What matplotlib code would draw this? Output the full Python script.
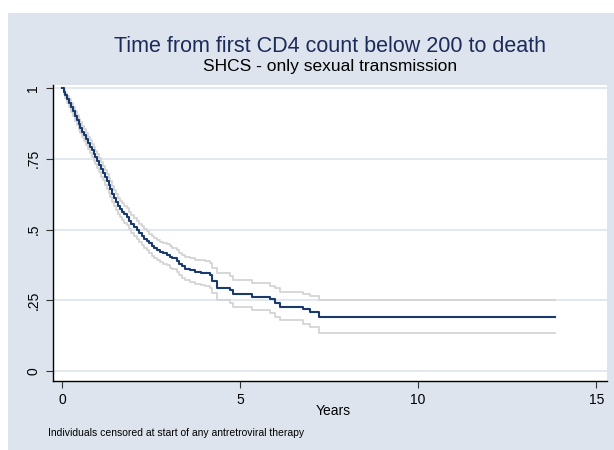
import matplotlib
matplotlib.use("Agg")
import matplotlib.pyplot as plt
from matplotlib.patches import Rectangle

plt.rcParams['font.family'] = ['Liberation Sans', 'DejaVu Sans']

# Kaplan-Meier estimate (years, survival) with 95% CI
times = [0, 0.05, 0.1, 0.15, 0.2, 0.26, 0.31, 0.36, 0.41, 0.47, 0.52, 0.57, 0.62, 0.68,
         0.73, 0.78, 0.84, 0.89, 0.94, 0.99, 1.05, 1.1, 1.15, 1.21, 1.26, 1.31, 1.36,
         1.42, 1.47, 1.52, 1.58, 1.63, 1.69, 1.75, 1.82, 1.88, 1.95, 2.02, 2.10, 2.17,
         2.24, 2.31, 2.38, 2.45, 2.52, 2.59, 2.66, 2.75, 2.84, 2.94, 3.02, 3.1, 3.22,
         3.3, 3.38, 3.46, 3.6, 3.74, 3.9, 4.02, 4.16, 4.22, 4.35, 4.72, 4.81, 5.33,
         5.84, 5.98, 6.12, 6.78, 6.97, 7.23, 13.85]
surv = [1.0, 0.987, 0.974, 0.960, 0.947, 0.932, 0.918, 0.902, 0.887, 0.872, 0.860, 0.846,
        0.834, 0.820, 0.806, 0.793, 0.780, 0.767, 0.755, 0.742, 0.727, 0.713, 0.700, 0.685,
        0.671, 0.656, 0.643, 0.627, 0.612, 0.597, 0.583, 0.572, 0.563, 0.555, 0.545, 0.532,
        0.520, 0.510, 0.498, 0.488, 0.478, 0.468, 0.461, 0.452, 0.442, 0.434, 0.428, 0.421,
        0.416, 0.411, 0.404, 0.398, 0.390, 0.378, 0.370, 0.362, 0.356, 0.351, 0.348, 0.345,
        0.339, 0.320, 0.295, 0.288, 0.274, 0.263, 0.254, 0.239, 0.227, 0.218, 0.208, 0.192,
        0.192]
upper = [1.0, 0.994, 0.984, 0.972, 0.961, 0.947, 0.934, 0.919, 0.905, 0.891, 0.880, 0.866,
         0.855, 0.842, 0.828, 0.816, 0.803, 0.791, 0.779, 0.767, 0.752, 0.739, 0.726, 0.712,
         0.698, 0.683, 0.671, 0.655, 0.640, 0.626, 0.612, 0.601, 0.593, 0.585, 0.575, 0.563,
         0.551, 0.541, 0.530, 0.520, 0.511, 0.501, 0.495, 0.486, 0.477, 0.469, 0.464, 0.457,
         0.453, 0.448, 0.442, 0.436, 0.429, 0.418, 0.411, 0.403, 0.398, 0.393, 0.391, 0.388,
         0.383, 0.366, 0.345, 0.336, 0.322, 0.310, 0.302, 0.292, 0.280, 0.274, 0.265, 0.253,
         0.253]
lower = [1.0, 0.980, 0.964, 0.948, 0.933, 0.917, 0.902, 0.885, 0.869, 0.853, 0.840, 0.826,
         0.813, 0.798, 0.784, 0.770, 0.757, 0.743, 0.731, 0.717, 0.702, 0.687, 0.674, 0.658,
         0.644, 0.629, 0.615, 0.599, 0.584, 0.568, 0.554, 0.543, 0.533, 0.525, 0.515, 0.501,
         0.489, 0.479, 0.466, 0.456, 0.445, 0.435, 0.427, 0.418, 0.407, 0.399, 0.392, 0.385,
         0.379, 0.374, 0.366, 0.360, 0.351, 0.338, 0.329, 0.321, 0.314, 0.309, 0.305, 0.302,
         0.295, 0.275, 0.250, 0.242, 0.228, 0.216, 0.206, 0.192, 0.180, 0.168, 0.157, 0.136,
         0.136]

xticks = [0, 5, 10, 15]
yticks = [0, 0.25, 0.5, 0.75, 1]
ytick_labels = ["0", ".25", ".5", ".75", "1"]

W, H = 614, 450
bg = "#dde4ee"
fig = plt.figure(figsize=(W / 100, H / 100), dpi=100, facecolor=bg)

# white margins on top and left
fig.patches.append(Rectangle((0, 1 - 13 / H), 1, 13 / H, transform=fig.transFigure,
                             facecolor="white", edgecolor="none", zorder=-5))
fig.patches.append(Rectangle((0, 0), 8 / W, 1, transform=fig.transFigure,
                             facecolor="white", edgecolor="none", zorder=-5))

ax = fig.add_axes([53 / W, 1 - 381 / H, (607 - 53) / W, (381 - 85) / H])
ax.set_facecolor("white")

ax.plot(times, upper, drawstyle="steps-post", color="#d4d4d4", lw=1.3, zorder=2)
ax.plot(times, lower, drawstyle="steps-post", color="#d4d4d4", lw=1.3, zorder=2)
ax.plot(times, surv, drawstyle="steps-post", color="#1a3a6e", lw=1.5, zorder=3)

ax.set_xlim(-0.25, 15.3)
ax.set_ylim(-0.035, 1.011)
ax.set_xticks(xticks)
ax.set_yticks(yticks)
ax.set_yticklabels(ytick_labels, rotation=90, va="center")
ax.tick_params(axis="both", direction="out", length=5, width=0.8, color="#333333",
               labelsize=10, labelcolor="black")
ax.tick_params(axis="x", pad=4)
ax.tick_params(axis="y", pad=4)
ax.grid(axis="y", color="#dde4ee", lw=1.2, zorder=1)
ax.set_axisbelow(True)
for s in ["top", "right"]:
    ax.spines[s].set_visible(False)
for s in ["left", "bottom"]:
    ax.spines[s].set_color("black")
    ax.spines[s].set_linewidth(1.0)

fig.text(330 / W, 1 - 46 / H, "Time from first CD4 count below 200 to death",
         ha="center", va="center", fontsize=15.5, color="#1c2b5a")
fig.text(330 / W, 1 - 67 / H, "SHCS - only sexual transmission",
         ha="center", va="center", fontsize=12.5, color="black")
fig.text(333 / W, 1 - 411 / H, "Years", ha="center", va="center", fontsize=10,
         color="black")
fig.text(48 / W, 1 - 433 / H, "Individuals censored at start of any antretroviral therapy",
         ha="left", va="center", fontsize=7.5, color="black")

fig.savefig("out.png", dpi=100, facecolor=bg)
